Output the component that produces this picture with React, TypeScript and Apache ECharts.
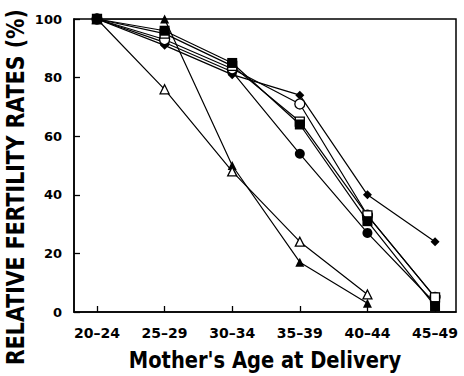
import React, { useEffect, useRef } from "react";
import * as echarts from "echarts";

const categories = ["20–24", "25–29", "30–34", "35–39", "40–44", "45–49"];
const yTicks = [0, 20, 40, 60, 80, 100];

const filledTriangle = [100, 100, 50, 17, 3, null];
const openTriangle = [100, 76, 48, 24, 6, null];
const filledDiamond = [100, 91, 81, 74, 40, 24];
const openCircle = [100, 93, 83, 71, 33, 5];
const openSquare = [100, 95, 84, 65, 33, 5];
const filledSquare = [100, 96, 85, 64, 31, 2];
const filledCircle = [100, 92, 82, 54, 27, 3];

const FONT = "DejaVu Sans";

function toPairs(arr: (number | null)[]) {
  return arr
    .map((v, i) => (v === null ? null : [i, v]))
    .filter((p) => p !== null);
}

function mk(name: string, data: (number | null)[], symbol: string, size: number, open: boolean, z: number) {
  return {
    name,
    type: "line",
    data: toPairs(data),
    symbol,
    symbolSize: size,
    showSymbol: true,
    lineStyle: { color: "#000", width: 1.2 },
    itemStyle: {
      color: open ? "#fff" : "#000",
      borderColor: "#000",
      borderWidth: open ? 1.3 : 0,
    },
    z,
  };
}

export default function App() {
  const ref = useRef<HTMLDivElement>(null);
  useEffect(() => {
    document.body.style.margin = "0";
    const chart = echarts.init(ref.current!, null, { renderer: "svg" });
    const idx = categories.map((_, i) => i);
    chart.setOption({
      animation: false,
      backgroundColor: "#fff",
      grid: {
        left: 74,
        right: 8,
        top: 19,
        bottom: 64,
        show: true,
        borderColor: "#000",
        borderWidth: 1.5,
        backgroundColor: "transparent",
      },
      xAxis: {
        type: "value",
        min: -0.34,
        max: 5.31,
        splitLine: { show: false },
        axisLine: { show: true, onZero: false, lineStyle: { color: "#000", width: 1.5 } },
        axisTick: { show: true, inside: true, length: 6, customValues: idx, lineStyle: { color: "#000", width: 1.3 } },
        axisLabel: {
          customValues: idx,
          formatter: (v: number) => categories[Math.round(v)] ?? "",
          color: "#000",
          fontFamily: FONT,
          fontWeight: "bold",
          fontSize: 14,
          margin: 14,
        },
      },
      yAxis: {
        type: "value",
        min: 0,
        max: 100,
        interval: 20,
        splitLine: { show: false },
        axisLine: { show: true, onZero: false, lineStyle: { color: "#000", width: 1.5 } },
        axisTick: { show: true, inside: true, length: 6, lineStyle: { color: "#000", width: 1.3 } },
        axisLabel: {
          formatter: (v: number) => (yTicks.includes(v) ? String(v) : ""),
          color: "#000",
          fontFamily: FONT,
          fontWeight: "bold",
          fontSize: 13,
          margin: 12,
        },
      },
      graphic: [
        {
          type: "text",
          x: 15,
          y: 187,
          rotation: Math.PI / 2,
          scaleY: 1.2,
          style: {
            text: "RELATIVE FERTILITY RATES (%)",
            fontFamily: FONT,
            fontWeight: "bold",
            fontSize: 20.5,
            fill: "#000",
            align: "center",
            verticalAlign: "middle",
          },
        },
        {
          type: "text",
          x: 265,
          y: 360,
          scaleY: 1.2,
          style: {
            text: "Mother's Age at Delivery",
            fontFamily: FONT,
            fontWeight: "bold",
            fontSize: 19.5,
            fill: "#000",
            align: "center",
            verticalAlign: "middle",
          },
        },
      ],
      series: [
        mk("filledCircle", filledCircle, "circle", 10, false, 2),
        mk("filledDiamond", filledDiamond, "diamond", 9, false, 2),
        mk("openCircle", openCircle, "circle", 10, true, 3),
        mk("openSquare", openSquare, "rect", 9, true, 3),
        mk("filledTriangle", filledTriangle, "triangle", 9, false, 4),
        mk("openTriangle", openTriangle, "triangle", 9, true, 4),
        mk("filledSquare", filledSquare, "rect", 10, false, 5),
      ],
    });
    return () => chart.dispose();
  }, []);
  return <div ref={ref} style={{ width: 464, height: 376 }} />;
}
